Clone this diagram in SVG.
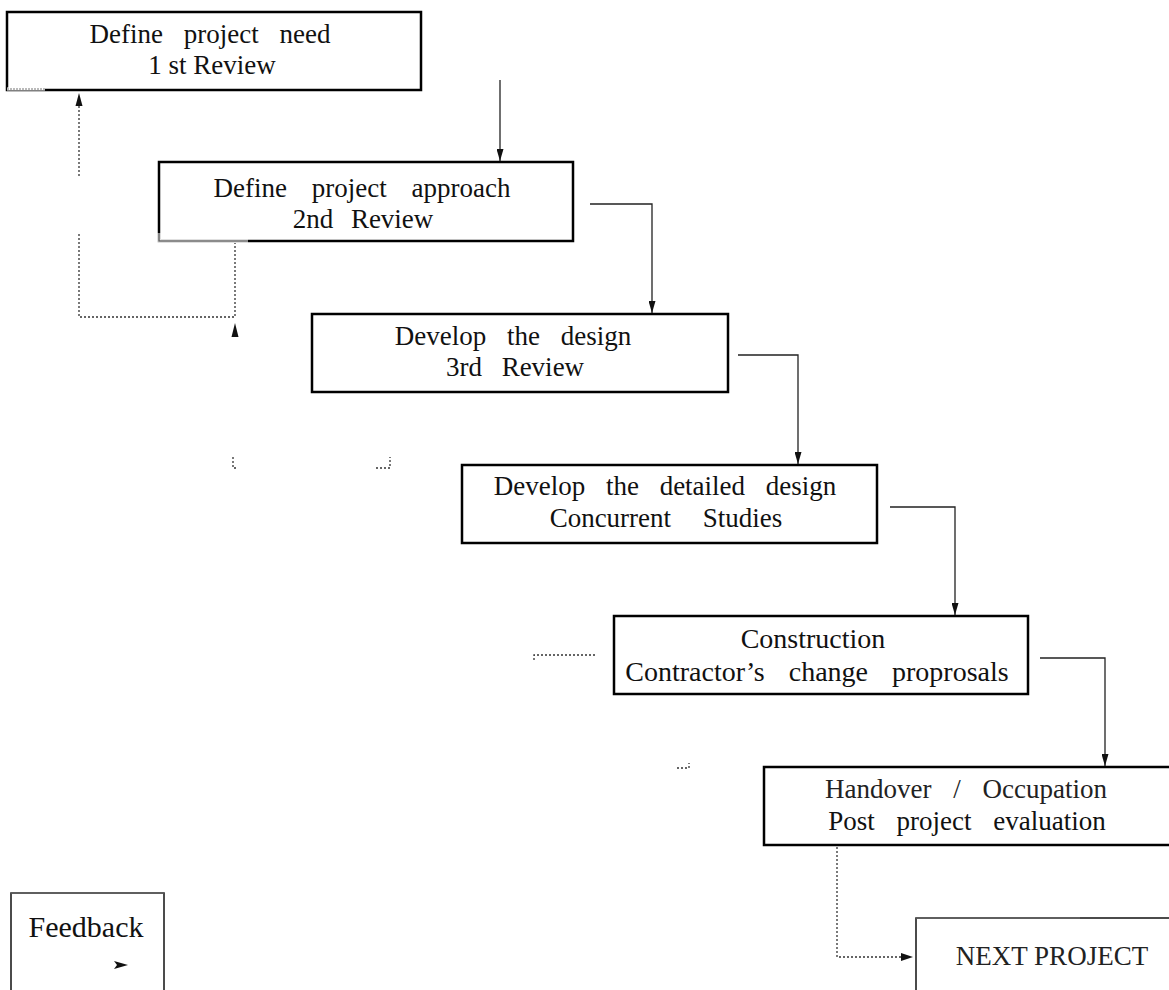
<svg xmlns="http://www.w3.org/2000/svg" width="1169" height="990" viewBox="0 0 1169 990">
  <defs>
    <style>
      .box { fill: #fff; stroke: #000; stroke-width: 2.5; }
      .thin { fill: #fff; stroke: #111; stroke-width: 1.5; }
      .t { font-family: "Liberation Serif", "Times New Roman", serif; font-size: 27px; fill: #111; text-anchor: middle; }
      .conn { fill: none; stroke: #222; stroke-width: 1.3; }
      .dot { fill: none; stroke: #333; stroke-width: 1.3; stroke-dasharray: 2 2; }
      .head { fill: #111; stroke: none; }
      .soft { fill: none; stroke: #666; stroke-width: 1.6; }
    </style>
    <marker id="arr" viewBox="0 0 12 7" refX="12" refY="3.5" markerWidth="12" markerHeight="7" markerUnits="userSpaceOnUse" orient="auto">
      <path d="M0,0 L12,3.5 L0,7 z" fill="#111"/>
    </marker>
  </defs>
  <rect width="1169" height="990" fill="#fff"/>

  <g id="connectors">
    <path class="conn" d="M500,80 V161" marker-end="url(#arr)"/>
    <path class="conn" d="M590,204 H652 V313" marker-end="url(#arr)"/>
    <path class="conn" d="M738,355 H798 V464" marker-end="url(#arr)"/>
    <path class="conn" d="M890,507 H955 V615" marker-end="url(#arr)"/>
    <path class="conn" d="M1040,658 H1105 V766" marker-end="url(#arr)"/>
    <!-- feedback dotted loop -->
    <path class="dot" d="M79,106 V176"/>
    <polygon class="head" points="79,93 75.5,106 82.5,106"/>
    <path class="dot" d="M79,234 V317 H235 V243"/>
    <polygon class="head" points="235,323 231.5,337 238.5,337"/>
    <!-- fragments -->
    <path class="dot" d="M233,457 V468 H237"/>
    <path class="dot" d="M376,468 H390 V457"/>
    <path class="dot" d="M534,660 V655 H596"/>
    <path class="dot" d="M677,768 H689 V763"/>
    <!-- to next project -->
    <path class="dot" d="M837,847 V957 H903"/>
    <polygon class="head" points="913,957 901,953 901,961"/>
  </g>

  <g id="n1">
    <rect class="box" x="7" y="12" width="414" height="78"/>
    <path d="M7,89 H45" stroke="#fff" stroke-width="3"/>
    <path d="M7,89 H45" stroke="#777" stroke-width="1.2" stroke-dasharray="2 1"/>
    <text class="t" x="210" y="43" word-spacing="14">Define project need</text>
    <text class="t" x="212" y="74">1 st Review</text>
  </g>
  <g id="n2">
    <rect class="box" x="159" y="162" width="414" height="79"/>
    <path d="M159,233 V241 H248" stroke="#fff" stroke-width="3" fill="none"/>
    <path class="soft" d="M159,233 V241 H248"/>
    <text class="t" x="362" y="197" word-spacing="18">Define project approach</text>
    <text class="t" x="363" y="228" word-spacing="11">2nd Review</text>
  </g>
  <g id="n3">
    <rect class="box" x="312" y="314" width="416" height="78"/>
    <text class="t" x="513" y="345" word-spacing="14">Develop the design</text>
    <text class="t" x="515" y="376" word-spacing="13">3rd Review</text>
  </g>
  <g id="n4">
    <rect class="box" x="462" y="465" width="415" height="78"/>
    <text class="t" x="665" y="495" word-spacing="14">Develop the detailed design</text>
    <text class="t" x="666" y="527" word-spacing="25">Concurrent Studies</text>
  </g>
  <g id="n5">
    <rect class="box" x="614" y="616" width="414" height="78"/>
    <text class="t" x="813" y="648" style="font-size:28px">Construction</text>
    <text class="t" x="817" y="681" style="font-size:28px" word-spacing="17">Contractor’s change proprosals</text>
  </g>
  <g id="n6">
    <rect class="box" x="764" y="767" width="412" height="78"/>
    <text class="t" x="966" y="798" word-spacing="15" style="fill:#222">Handover / Occupation</text>
    <text class="t" x="967" y="830" word-spacing="15">Post project evaluation</text>
  </g>
  <g id="n7">
    <rect class="thin" x="916" y="918" width="260" height="80"/>
    <path class="soft" d="M916,918 H1080"/>
    <text class="t" x="1052" y="965" style="fill:#222">NEXT PROJECT</text>
  </g>
  <g id="feedback">
    <rect class="thin" x="11" y="893" width="153" height="105"/>
    <path class="soft" d="M11,893 H164"/>
    <text class="t" x="86" y="937" style="font-size:30px">Feedback</text>
    <polygon class="head" points="128,965 114,961 117,965 114,969"/>
  </g>
</svg>
